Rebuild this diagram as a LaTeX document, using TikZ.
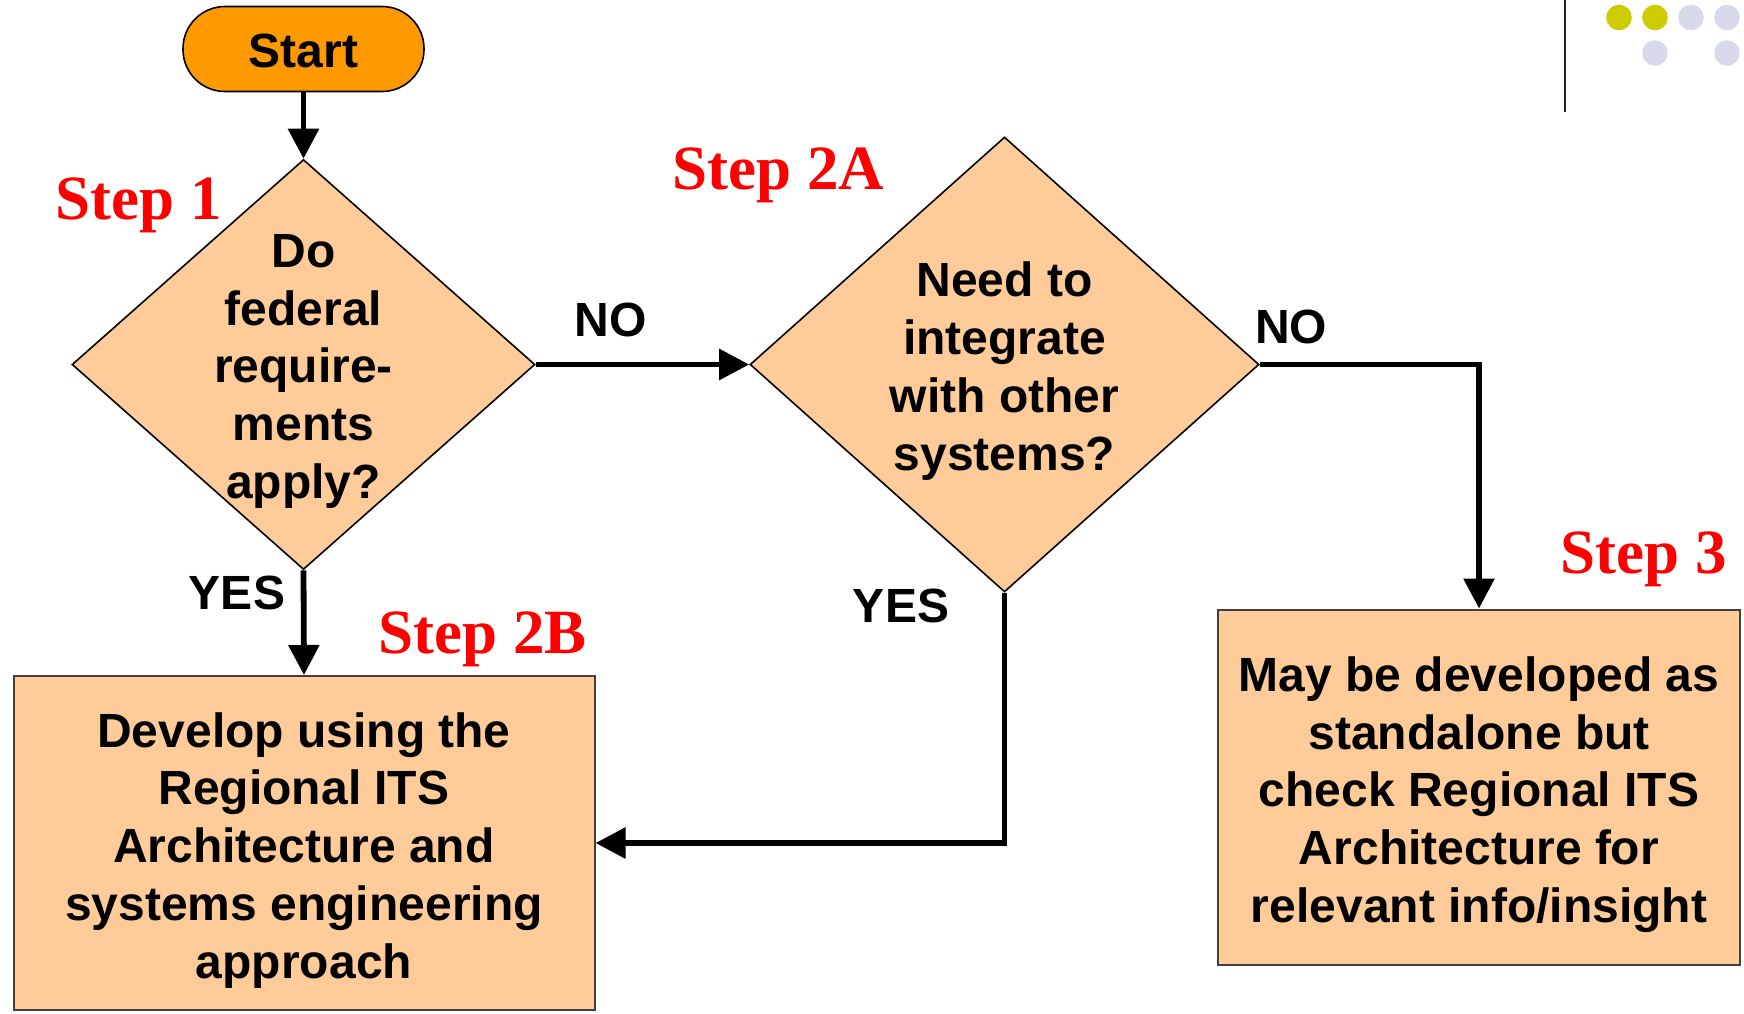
\documentclass[tikz,border=0pt]{standalone}
\usepackage{fontspec}
\setmainfont{Liberation Sans}
\newfontfamily\stepfont{Liberation Serif}
\usetikzlibrary{shapes.geometric,arrows.meta}
\definecolor{peach}{HTML}{FFCC99}
\definecolor{startorange}{HTML}{FF9900}
\definecolor{dotyellow}{HTML}{CCCC00}
\definecolor{dotlilac}{HTML}{D9D9EC}
\tikzset{
  bodytext/.style={font=\bfseries\fontsize{24}{28.9}\selectfont, align=center, inner sep=0pt},
  steplabel/.style={font=\stepfont\bfseries\fontsize{31.5}{36}\selectfont, text=red, inner sep=0pt},
  decision/.style={diamond, draw=black, line width=0.8pt, fill=peach, inner sep=0pt},
  actionbox/.style={rectangle, draw=black!75, line width=1pt, fill=peach, inner sep=0pt},
  flow/.style={line width=2.9pt, -{Triangle[length=15pt,width=15pt]}},
  dot/.style={circle, inner sep=0pt, minimum size=12.8pt}
}
\begin{document}
\begin{tikzpicture}[x=0.5pt, y=-0.5pt]
  \useasboundingbox (0,0) rectangle (1744,1013);

  % corner ornament
  \draw[line width=1pt, black!85] (1565,0) -- (1565,112);
  \node[dot, fill=dotyellow] (o1) at (1619,17.5) {};
  \node[dot, fill=dotyellow] (o2) at (1655,17.5) {};
  \node[dot, fill=dotlilac] (o3) at (1691,17.5) {};
  \node[dot, fill=dotlilac] (o4) at (1727,17.5) {};
  \node[dot, fill=dotlilac] (o5) at (1655,53) {};
  \node[dot, fill=dotlilac] (o6) at (1727,53) {};

  % shapes
  \node[rectangle, rounded corners=21pt, draw=black, line width=0.8pt, fill=startorange,
        minimum width=120.5pt, minimum height=42.5pt, inner sep=0pt, font=\bfseries\fontsize{24}{28.9}\selectfont]
        (start) at (303.5,49) {};
  \node[bodytext] (st) at ([yshift=-0.8pt]start.center) {Start};

  \node[decision, minimum width=231.5pt, minimum height=205pt] (d1) at (303.5,364.5) {};
  \node[bodytext] (t1) at ([yshift=-3.4pt]d1.center) {Do\\federal\\require-\\ments\\apply?};

  \node[decision, minimum width=254.5pt, minimum height=227.5pt] (d2) at (1004.5,364.5) {};
  \node[bodytext] (t2) at ([yshift=-3.2pt]d2.center) {Need to\\integrate\\with other\\systems?};

  \node[actionbox, minimum width=290.5pt, minimum height=167pt] (b2b) at (304,843) {};
  \node[bodytext] (t3) at ([yshift=-3.6pt]b2b.center) {Develop using the\\Regional ITS\\Architecture and\\systems engineering\\approach};

  \node[actionbox, minimum width=260.75pt, minimum height=177.5pt] (b3) at (1479,787) {};
  \node[bodytext] (t4) at ([yshift=-3.8pt]b3.center) {May be developed as\\standalone but\\check Regional ITS\\Architecture for\\relevant info/insight};

  % connectors
  \draw[flow] (start.south) -- (d1.north);
  \draw[flow] (d1.east) -- (d2.west);
  \draw[flow] (d1.south) -- (b2b.north);
  \draw[flow] (d2.east) -| (b3.north);
  \draw[flow] (d2.south) |- (b2b.east);

  % branch labels
  \node[bodytext] (no1) at (610.5,320) {NO};
  \node[bodytext] (no2) at (1291,327) {NO};
  \node[bodytext] (yes1) at (237,593) {YES};
  \node[bodytext] (yes2) at (901,606) {YES};

  % step labels
  \node[steplabel] (s1) at (139,205.5) {Step 1};
  \node[steplabel] (s2a) at (778.5,175.5) {Step 2A};
  \node[steplabel] (s2b) at (482.5,639.5) {Step 2B};
  \node[steplabel] (s3) at (1644,559.5) {Step 3};
\end{tikzpicture}
\end{document}
